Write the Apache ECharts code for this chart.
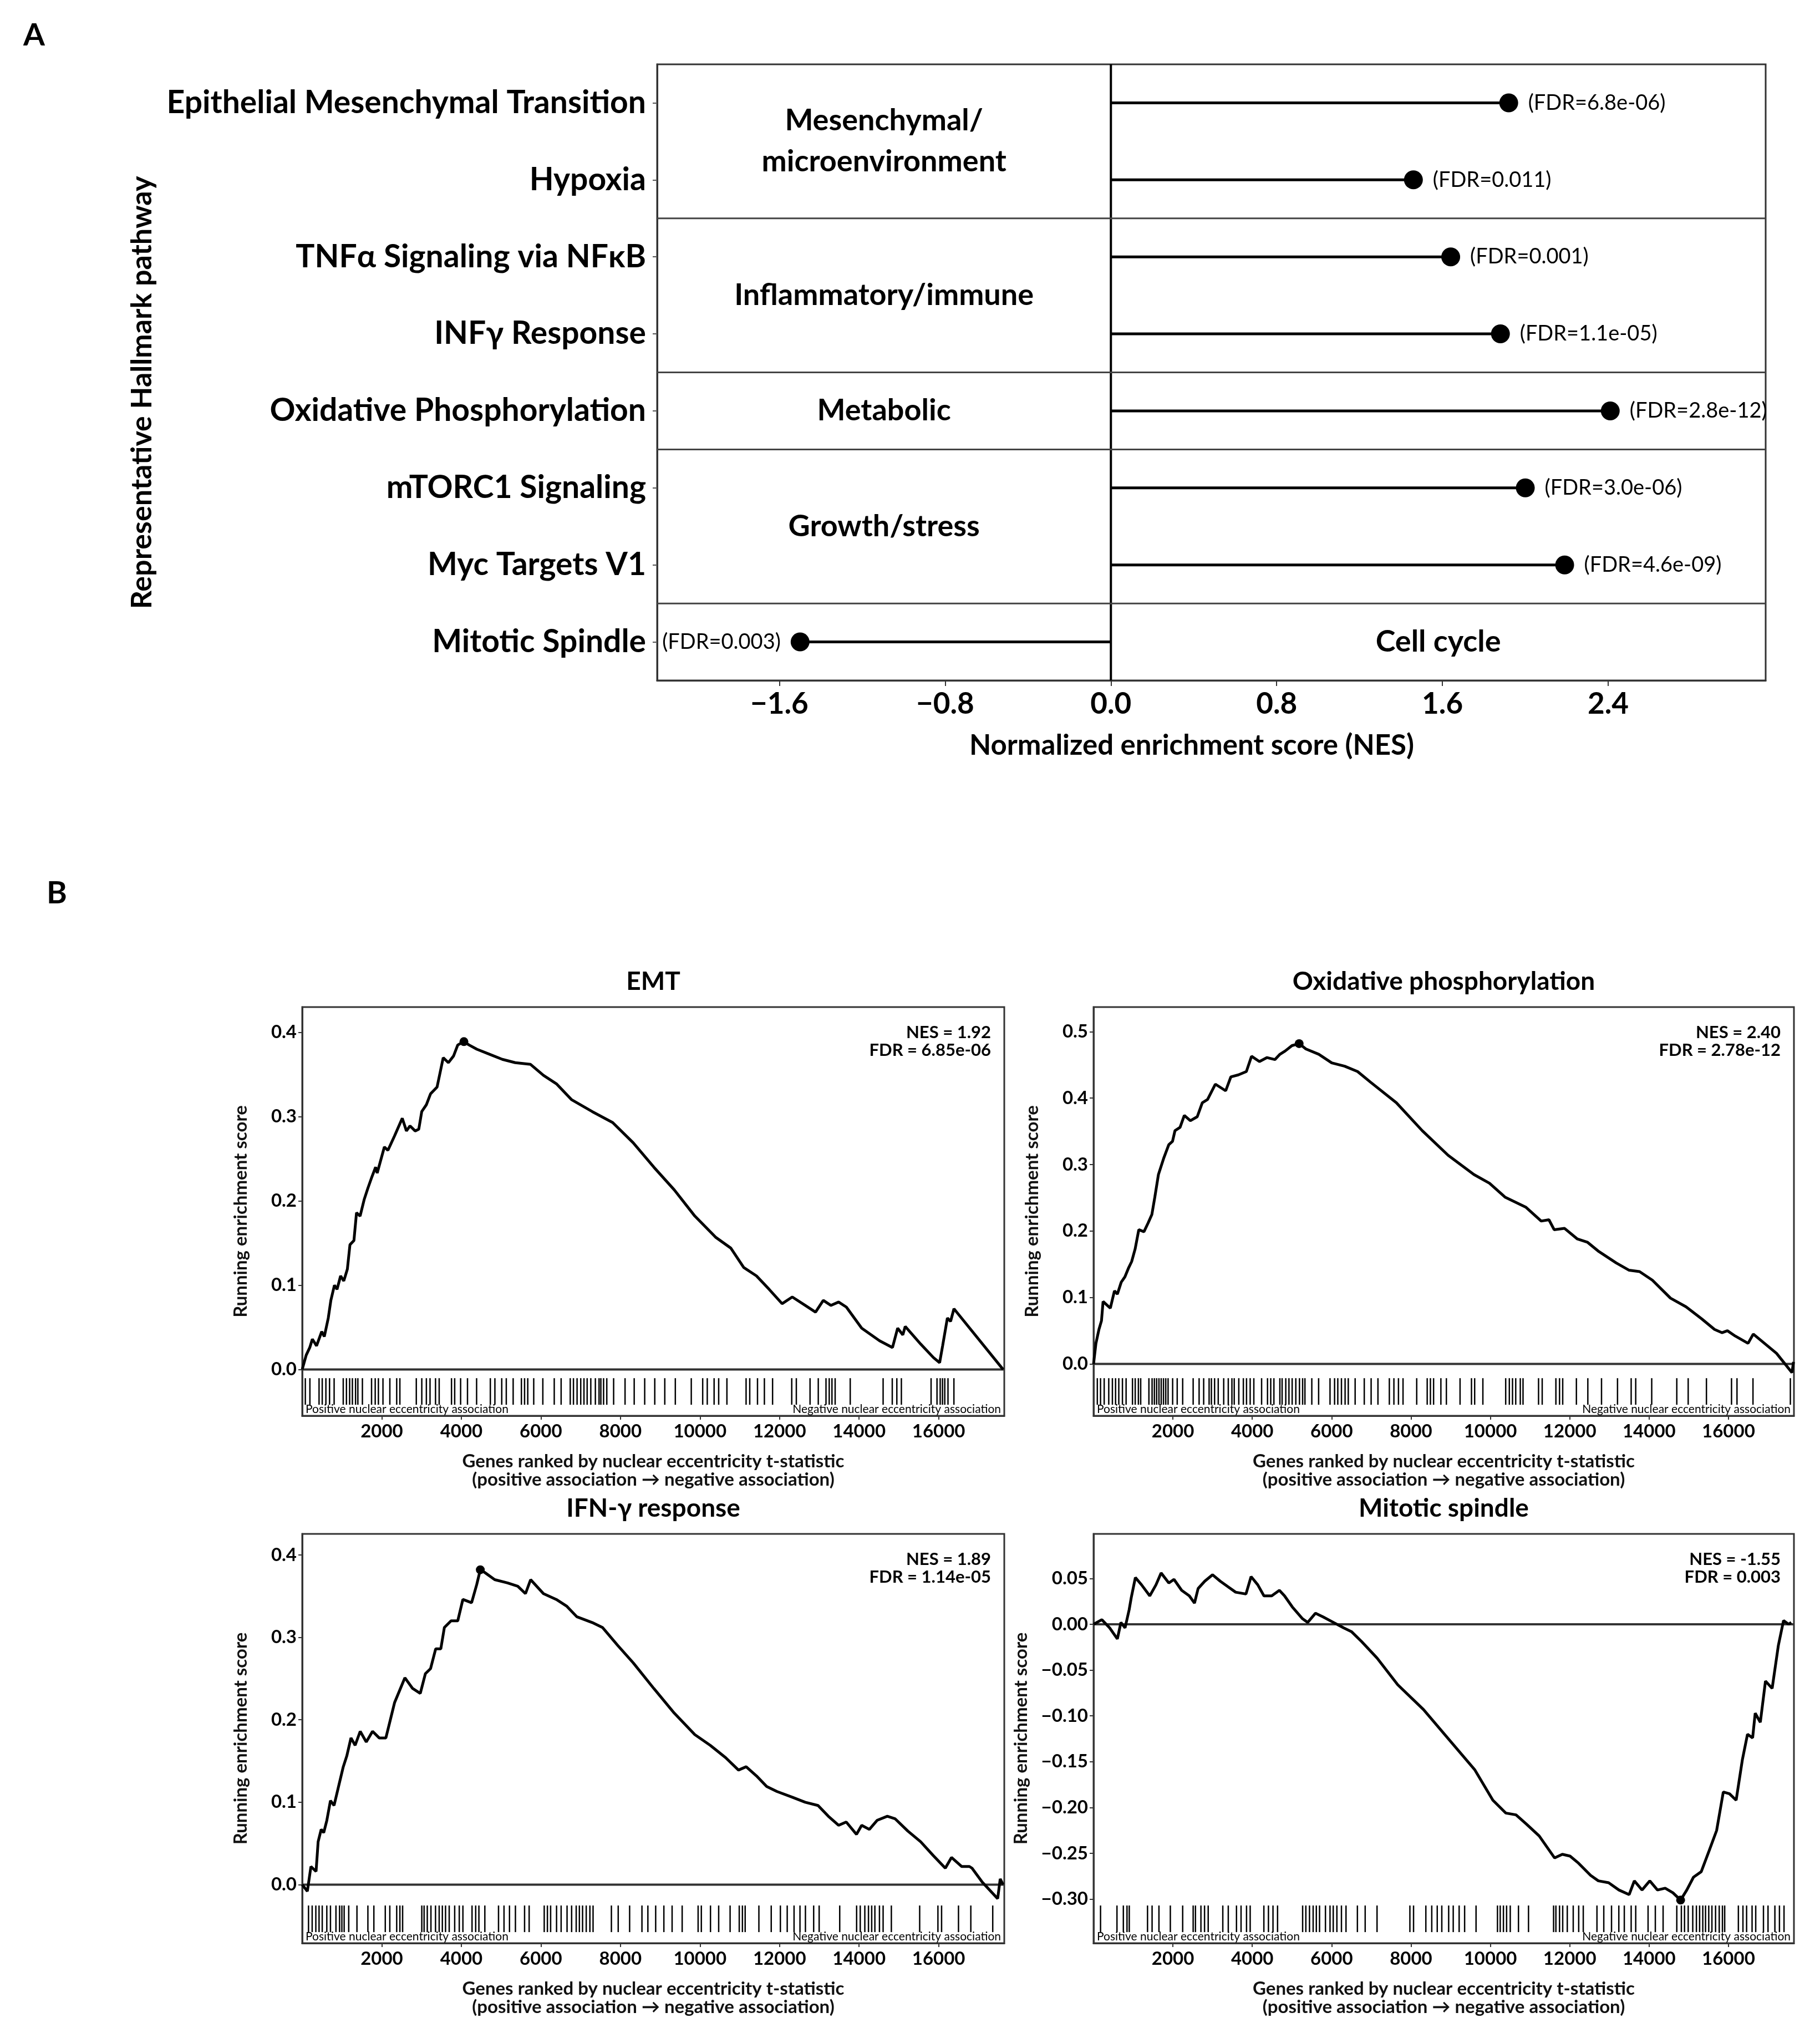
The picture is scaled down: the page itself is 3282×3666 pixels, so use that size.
<!DOCTYPE html>
<html><head><meta charset="utf-8">
<script src="https://cdn.jsdelivr.net/npm/echarts@6/dist/echarts.min.js"></script>
<style>html,body{margin:0;padding:0;background:#fff}#c{width:3282px;height:3666px}</style>
</head><body><div id="c"></div><script>
// ---------- Panel A data ----------
const pathways = ['Epithelial Mesenchymal Transition','Hypoxia','TNF\u03b1 Signaling via NF\u03baB','INF\u03b3 Response','Oxidative Phosphorylation','mTORC1 Signaling','Myc Targets V1','Mitotic Spindle'];
const nesValues = [1.92, 1.46, 1.64, 1.88, 2.41, 2.00, 2.19, -1.50];
const fdrLabels = ['(FDR=6.8e-06)','(FDR=0.011)','(FDR=0.001)','(FDR=1.1e-05)','(FDR=2.8e-12)','(FDR=3.0e-06)','(FDR=4.6e-09)','(FDR=0.003)'];
const groupNames = ['Mesenchymal/\nmicroenvironment','Inflammatory/immune','Metabolic','Growth/stress','Cell cycle'];
const groupRows = [[0,1],[2,3],[4],[5,6],[7]];
const groupSide = ['left','left','left','left','right'];
const nesTicks = [-1.6,-0.8,0.0,0.8,1.6,2.4];
const nesRange = [-2.19, 3.16];

// ---------- Panel B data ----------
const rankTicks = [2000,4000,6000,8000,10000,12000,14000,16000];
const rankMax = 17650;

const emtRank = [0,100,190,255,360,490,555,655,720,810,875,965,1045,1135,1200,1300,1365,1455,1560,1650,1740,1845,1885,2065,2155,2320,2515,2620,2710,2840,2930,3005,3120,3225,3390,3545,3675,3805,3910,4065,4195,4390,4710,5030,5355,5740,6065,6390,6775,7290,7805,8320,8840,9355,9870,10390,10775,11100,11420,11740,12065,12320,12645,12905,13100,13290,13485,13680,14065,14515,14840,14970,15100,15160,15550,15870,16025,16100,16220,16300,16385,17620];
const emtES = [0,0.017,0.026,0.036,0.028,0.045,0.039,0.061,0.082,0.100,0.095,0.111,0.105,0.119,0.148,0.153,0.186,0.182,0.202,0.215,0.227,0.240,0.233,0.264,0.260,0.277,0.298,0.283,0.289,0.283,0.285,0.306,0.314,0.327,0.335,0.370,0.364,0.372,0.385,0.389,0.385,0.380,0.374,0.368,0.364,0.362,0.349,0.339,0.320,0.306,0.293,0.269,0.240,0.213,0.182,0.157,0.144,0.121,0.111,0.095,0.078,0.086,0.076,0.068,0.082,0.076,0.080,0.074,0.049,0.034,0.026,0.049,0.041,0.051,0.030,0.014,0.008,0.028,0.061,0.057,0.072,0.0];
const emtHits = [78,193,423,503,595,687,802,1031,1112,1192,1261,1341,1399,1513,1743,1835,1915,2030,2203,2375,2455,2868,3006,3121,3213,3351,3443,3753,3833,3982,4155,4384,4729,4844,5016,5130,5303,5510,5590,5670,5820,6049,6336,6509,6738,6819,6910,7002,7083,7163,7255,7370,7462,7508,7576,7657,7829,8116,8346,8610,8863,9115,9380,9781,10068,10183,10355,10470,10677,11159,11251,11446,11619,11825,12307,12422,12767,12974,13168,13249,13318,13398,13777,14604,14834,14949,15063,15810,15959,16039,16097,16154,16235,16384];
const emtPeak = [4065, 0.389];

const oxRank = [0,60,136,200,240,330,423,527,600,697,790,879,960,1048,1140,1270,1374,1470,1544,1635,1765,1896,1990,2052,2180,2287,2440,2613,2740,2873,3069,3200,3330,3460,3650,3851,3981,4180,4372,4570,4698,4830,5000,5181,5350,5676,6002,6328,6654,6979,7631,8283,8935,9586,9977,10369,10890,11281,11476,11607,11870,12193,12450,12715,13171,13497,13760,14083,14539,14931,15322,15648,15840,15974,16170,16494,16625,17211,17600,17640];
const oxES = [0,0.031,0.052,0.065,0.094,0.089,0.084,0.110,0.105,0.123,0.131,0.144,0.154,0.173,0.202,0.199,0.212,0.225,0.251,0.285,0.309,0.330,0.335,0.351,0.356,0.374,0.366,0.372,0.393,0.398,0.421,0.416,0.411,0.432,0.435,0.440,0.463,0.455,0.461,0.458,0.466,0.471,0.479,0.482,0.474,0.466,0.453,0.448,0.440,0.424,0.393,0.351,0.314,0.285,0.272,0.251,0.236,0.215,0.217,0.202,0.204,0.188,0.183,0.170,0.152,0.141,0.139,0.126,0.099,0.086,0.068,0.052,0.047,0.050,0.042,0.031,0.045,0.016,-0.013,0.003];
const oxHits = [95,176,268,383,475,555,636,728,820,981,1050,1130,1188,1395,1475,1533,1590,1648,1705,1763,1820,1878,1993,2108,2246,2510,2660,2775,2912,2970,3050,3142,3280,3395,3487,3545,3660,3775,3855,3947,4039,4235,4384,4465,4545,4695,4752,4844,4924,5005,5097,5189,5269,5327,5500,5672,5959,6074,6155,6247,6339,6419,6592,6822,6995,7167,7454,7569,7684,7799,8144,8408,8489,8569,8753,8891,9236,9524,9604,9811,10386,10478,10558,10639,10754,10823,11214,11306,11651,11743,11823,12168,12456,12801,13204,13548,13663,14066,14698,14985,15445,16077,16215,16618,17560];
const oxPeak = [5181, 0.482];

const ifnRank = [0,129,219,348,400,477,540,619,710,800,903,1032,1120,1226,1330,1458,1610,1768,1935,2103,2190,2323,2452,2581,2775,2968,3097,3226,3355,3484,3574,3742,3910,4039,4258,4387,4477,4580,4839,5161,5419,5613,5742,6065,6387,6645,6903,7290,7548,7935,8323,8839,9355,9871,10258,10645,10968,11161,11419,11677,11935,12323,12645,12968,13226,13484,13677,13935,14065,14258,14452,14710,14903,15226,15548,15871,16168,16323,16581,16774,16839,17097,17484,17548,17620];
const ifnES = [0,-0.008,0.022,0.016,0.052,0.067,0.063,0.078,0.102,0.096,0.117,0.143,0.156,0.178,0.169,0.186,0.173,0.186,0.178,0.178,0.195,0.221,0.236,0.251,0.238,0.232,0.256,0.262,0.286,0.286,0.312,0.320,0.320,0.346,0.342,0.364,0.382,0.379,0.370,0.366,0.362,0.353,0.370,0.353,0.346,0.338,0.325,0.318,0.312,0.290,0.269,0.238,0.208,0.182,0.169,0.154,0.139,0.143,0.132,0.119,0.113,0.106,0.100,0.096,0.083,0.072,0.076,0.061,0.072,0.067,0.078,0.083,0.080,0.065,0.052,0.035,0.020,0.033,0.022,0.022,0.020,0.003,-0.017,0.007,0.0];
const ifnHits = [158,250,342,423,503,618,710,848,939,997,1054,1169,1376,1651,1801,2088,2202,2375,2455,2524,3006,3064,3144,3236,3351,3443,3523,3603,3695,3833,3948,4040,4269,4361,4442,4591,4935,5073,5211,5360,5590,5705,6084,6164,6245,6394,6509,6658,6773,6888,6968,7048,7140,7232,7312,7773,7944,8231,8541,8690,8886,9092,9299,9552,9953,10034,10264,10470,10757,10987,11067,11136,11481,11791,12021,12193,12365,12514,12651,12858,12996,13513,13938,14029,14144,14236,14317,14397,14512,14604,14811,15523,15982,16074,16499,16809,17360];
const ifnPeak = [4477, 0.382];

const mitRank = [0,210,406,600,690,794,898,950,1054,1210,1417,1573,1702,1897,2027,2220,2414,2544,2635,2803,2998,3192,3387,3581,3841,3970,4139,4294,4489,4683,4813,5007,5267,5397,5591,5786,6045,6304,6498,6757,7146,7665,8313,8961,9610,10063,10387,10646,10906,11230,11619,11814,12008,12203,12526,12721,12980,13239,13498,13628,13822,14017,14211,14405,14600,14794,14950,15119,15314,15514,15702,15870,16026,16194,16350,16480,16609,16674,16803,16933,17101,17258,17388,17517,17582];
const mitES = [0,0.005,-0.004,-0.016,0.002,-0.004,0.016,0.029,0.051,0.043,0.031,0.043,0.056,0.045,0.049,0.037,0.031,0.023,0.039,0.047,0.054,0.047,0.041,0.035,0.033,0.052,0.043,0.031,0.031,0.037,0.031,0.019,0.006,0.002,0.012,0.008,0.002,-0.004,-0.008,-0.019,-0.037,-0.066,-0.093,-0.126,-0.159,-0.192,-0.206,-0.208,-0.218,-0.231,-0.255,-0.251,-0.253,-0.260,-0.274,-0.280,-0.282,-0.290,-0.295,-0.280,-0.290,-0.280,-0.290,-0.288,-0.293,-0.301,-0.290,-0.276,-0.270,-0.247,-0.225,-0.183,-0.185,-0.192,-0.148,-0.120,-0.124,-0.097,-0.107,-0.062,-0.070,-0.023,0.004,0.0,0.002];
const mitHits = [176,590,751,843,900,1360,1475,1648,1935,2246,2510,2568,2706,2797,2889,3257,3395,3602,3717,3855,3947,4292,4407,4522,4637,5269,5350,5442,5534,5614,5695,5844,5959,6040,6132,6247,6362,6649,6845,7144,7972,8064,8374,8523,8661,8776,8949,9064,9213,9351,9639,10179,10248,10329,10409,10501,10708,10961,11593,11651,11743,11823,11938,12088,12226,12341,12686,12858,13053,13237,13375,13548,13663,13974,14157,14353,14698,14813,14893,14985,15100,15192,15273,15353,15422,15503,15583,15675,15767,15848,15905,16250,16365,16457,16595,16687,16882,16997,17170,17285,17400];
const mitPeak = [14794, -0.301];

const gseaTitles = ['EMT','Oxidative phosphorylation','IFN-\u03b3 response','Mitotic spindle'];
const gseaNES = ['NES = 1.92','NES = 2.40','NES = 1.89','NES = -1.55'];
const gseaFDR = ['FDR = 6.85e-06','FDR = 2.78e-12','FDR = 1.14e-05','FDR = 0.003'];
const gseaYRange = [[-0.055,0.430],[-0.078,0.537],[-0.071,0.4255],[-0.348,0.0986]];
const gseaYTicks = [[0,0.1,0.2,0.3,0.4],[0,0.1,0.2,0.3,0.4,0.5],[0,0.1,0.2,0.3,0.4],[-0.30,-0.25,-0.20,-0.15,-0.10,-0.05,0,0.05]];

// ---------- layout ----------
const FONT = 'Lato';
const gridA = {left:1185, top:116, width:1999, height:1111};
const gGrids = [
  {left:545, top:1816, width:1266, height:737},
  {left:1972, top:1816, width:1263, height:737},
  {left:545, top:2766, width:1266, height:738},
  {left:1972, top:2766, width:1263, height:738}
];

const chart = echarts.init(document.getElementById('c'), null, {renderer:'canvas'});

const gridStyle = {show:true, borderColor:'#333', borderWidth:3, backgroundColor:'transparent'};
const grids = [Object.assign({}, gridStyle, gridA)];
gGrids.forEach(g => grids.push(Object.assign({}, gridStyle, g)));

// straight reference lines drawn through the axes (value on one axis, full span on the other)
function refLines(values, dir, xi, yi, color, width){
  return {
    type:'custom', xAxisIndex:xi, yAxisIndex:yi, silent:true, z:3,
    data: values.map(v=>[v]),
    encode: dir==='h' ? {y:0} : {x:0},
    renderItem:(params, api)=>{
      const cs = params.coordSys;
      const v = api.value(0);
      if (dir==='h') {
        const y = api.coord([0, v])[1];
        return {type:'line', shape:{x1:cs.x, y1:y, x2:cs.x+cs.width, y2:y}, style:{stroke:color, lineWidth:width}};
      }
      const x = api.coord([v, 0])[0];
      return {type:'line', shape:{x1:x, y1:cs.y, x2:x, y2:cs.y+cs.height}, style:{stroke:color, lineWidth:width}};
    }
  };
}

const xAxes = [{
  type:'value', gridIndex:0, min:nesRange[0], max:nesRange[1],
  axisLine:{show:true, onZero:false, lineStyle:{color:'#333', width:3}},
  axisTick:{show:true, length:10, lineStyle:{color:'#333', width:2}, customValues:nesTicks},
  axisLabel:{customValues:nesTicks, fontFamily:FONT, fontSize:53, fontWeight:'bold', color:'#000', margin:16,
    formatter: v => (v < 0 ? '\u2212' : '') + Math.abs(v).toFixed(1)},
  splitLine:{show:false}
},{
  type:'value', gridIndex:0, min:nesRange[0], max:nesRange[1], show:false
}];
const yAxes = [{
  type:'category', gridIndex:0, data:pathways, inverse:true,
  axisLine:{show:true, onZero:false, lineStyle:{color:'#333', width:3}},
  axisTick:{show:true, alignWithLabel:true, length:8, lineStyle:{color:'#555', width:2}},
  axisLabel:{fontFamily:FONT, fontSize:57, fontWeight:'bold', color:'#000', margin:20},
  splitLine:{show:false}
},{
  type:'value', gridIndex:0, min:-0.5, max:pathways.length-0.5, inverse:true, show:false
}];

const series = [];
// lollipop stems
series.push({
  type:'bar', xAxisIndex:0, yAxisIndex:0, data:nesValues, barWidth:5,
  itemStyle:{color:'#000', opacity:1}, silent:true
});
// zero line of panel A
series.push(refLines([0], 'v', 1, 1, '#000', 4));
// group dividers
const dividers = groupRows.slice(0,-1).map(r => r[r.length-1] + 0.5);
series.push(refLines(dividers, 'h', 1, 1, '#444', 3));
// lollipop heads + FDR labels
series.push({
  type:'scatter', xAxisIndex:0, yAxisIndex:0, symbolSize:34, itemStyle:{color:'#000', opacity:1}, z:5, silent:true,
  data: nesValues.map((v,i)=>({value:[v, pathways[i]], label:{position: v<0?'left':'right'}})),
  label:{show:true, distance:18, fontFamily:FONT, fontSize:38, color:'#000', formatter: p => fdrLabels[p.dataIndex]}
});
// group labels
const groupData = groupNames.map((n,i)=>{
  const rows = groupRows[i];
  const yc = rows.reduce((a,b)=>a+b,0)/rows.length;
  const xc = groupSide[i]==='left' ? nesRange[0]/2 : nesRange[1]/2;
  return {value:[xc, yc], name:n};
});
series.push({
  type:'scatter', xAxisIndex:1, yAxisIndex:1, symbolSize:0, data:groupData, silent:true,
  itemStyle:{opacity:1},
  label:{show:true, position:'inside', formatter:p=>p.name, fontFamily:FONT, fontSize:54, fontWeight:'bold', color:'#000', lineHeight:74}
});

const curves = [[emtRank,emtES,emtHits,emtPeak],[oxRank,oxES,oxHits,oxPeak],[ifnRank,ifnES,ifnHits,ifnPeak],[mitRank,mitES,mitHits,mitPeak]];
curves.forEach((c,k)=>{
  const gi = k+1;
  const dec = k===3 ? 2 : 1;
  xAxes.push({
    type:'value', gridIndex:gi, min:0, max:rankMax,
    name:'Genes ranked by nuclear eccentricity t-statistic\n(positive association \u2192 negative association)',
    nameLocation:'middle', nameGap:66,
    nameTextStyle:{fontFamily:FONT, fontSize:33, fontWeight:'bold', color:'#111', lineHeight:33},
    axisLine:{show:true, onZero:false, lineStyle:{color:'#333', width:3}},
    axisTick:{show:true, length:7, customValues:rankTicks, lineStyle:{color:'#333', width:2}},
    axisLabel:{customValues:rankTicks, fontFamily:FONT, fontSize:33, fontWeight:'bold', color:'#000', margin:12,
      formatter: v => String(Math.round(v))},
    splitLine:{show:false}
  });
  yAxes.push({
    type:'value', gridIndex:gi, min:gseaYRange[k][0], max:gseaYRange[k][1],
    name:'Running enrichment score', nameLocation:'middle', nameGap: k===3 ? 114 : 94,
    nameTextStyle:{fontFamily:FONT, fontSize:33, fontWeight:'bold', color:'#111'},
    axisLine:{show:true, onZero:false, lineStyle:{color:'#333', width:3}},
    axisTick:{show:true, length:7, customValues:gseaYTicks[k], lineStyle:{color:'#333', width:2}},
    axisLabel:{customValues:gseaYTicks[k], fontFamily:FONT, fontSize:33, fontWeight:'bold', color:'#000', margin:10,
      formatter: v => (v < -1e-9 ? '\u2212' : '') + Math.abs(v).toFixed(dec)},
    splitLine:{show:false}
  });
  const xi = xAxes.length-1, yi = yAxes.length-1;
  series.push(refLines([0], 'h', xi, yi, '#333', 4));
  series.push({
    type:'line', xAxisIndex:xi, yAxisIndex:yi, data:c[0].map((r,i)=>[r,c[1][i]]), z:4,
    showSymbol:false, symbol:'none', lineStyle:{color:'#000', width:5}, silent:true
  });
  series.push({
    type:'scatter', xAxisIndex:xi, yAxisIndex:yi, data:[c[3]], symbolSize:16, itemStyle:{color:'#000', opacity:1}, silent:true, z:5
  });
  const yMin = gseaYRange[k][0];
  series.push({
    type:'custom', xAxisIndex:xi, yAxisIndex:yi, silent:true,
    data:c[2].map(h=>[h, yMin]), encode:{x:0, y:1},
    renderItem:(params, api)=>{
      const cs = params.coordSys;
      const p = api.coord([api.value(0), yMin]);
      const bottom = cs.y + cs.height;
      return {type:'line', shape:{x1:p[0], y1:bottom - cs.height*0.027, x2:p[0], y2:bottom - cs.height*0.092},
        style:{stroke:'#000', lineWidth:2.5}};
    }
  });
});

// graphic texts
const graphics = [];
graphics.push({type:'text', left:42, top:36, style:{text:'A', font:'bold 56px '+FONT, fill:'#000'}});
graphics.push({type:'text', left:84, top:1583, style:{text:'B', font:'bold 56px '+FONT, fill:'#000'}});
graphics.push({type:'text', x:256, y:708, rotation:Math.PI/2, style:{text:'Representative Hallmark pathway', font:'bold 52px '+FONT, fill:'#000', align:'center', verticalAlign:'middle'}});
graphics.push({type:'text', x:2149, y:1345, style:{text:'Normalized enrichment score (NES)', font:'bold 51px '+FONT, fill:'#000', align:'center', verticalAlign:'middle'}});
gGrids.forEach((g,k)=>{
  graphics.push({type:'text', x:g.left+g.width/2, y:g.top-46, style:{text:gseaTitles[k], font:'bold 46px '+FONT, fill:'#000', align:'center', verticalAlign:'middle'}});
  graphics.push({type:'text', x:g.left+g.width-24, y:g.top+46, style:{text:gseaNES[k], font:'bold 31px '+FONT, fill:'#000', align:'right', verticalAlign:'middle'}});
  graphics.push({type:'text', x:g.left+g.width-24, y:g.top+78, style:{text:gseaFDR[k], font:'bold 31px '+FONT, fill:'#000', align:'right', verticalAlign:'middle'}});
  graphics.push({type:'text', x:g.left+6, y:g.top+g.height-12, style:{text:'Positive nuclear eccentricity association', font:'21px '+FONT, fill:'#000', align:'left', verticalAlign:'middle'}});
  graphics.push({type:'text', x:g.left+g.width-6, y:g.top+g.height-12, style:{text:'Negative nuclear eccentricity association', font:'21px '+FONT, fill:'#000', align:'right', verticalAlign:'middle'}});
});

chart.setOption({
  animation:false,
  backgroundColor:'#fff',
  grid:grids, xAxis:xAxes, yAxis:yAxes, series:series, graphic:graphics
});
</script></body></html>
